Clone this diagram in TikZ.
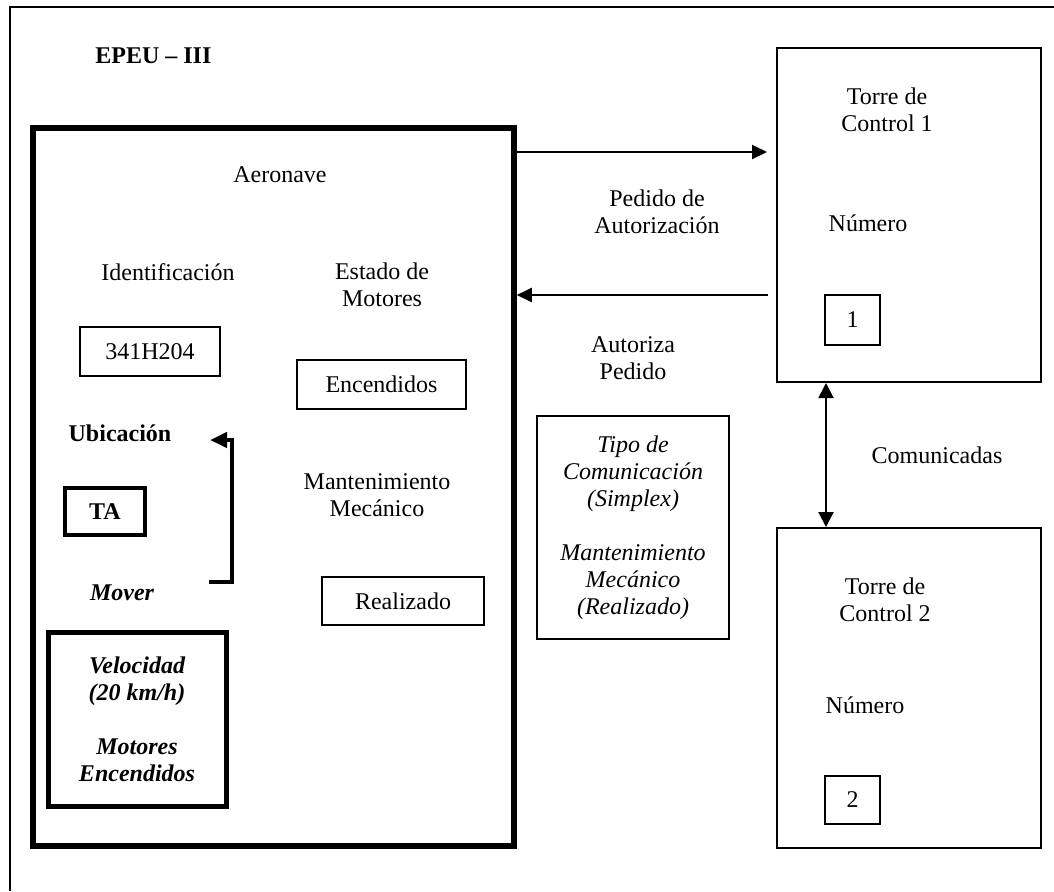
\documentclass[tikz,border=0pt]{standalone}
\usepackage{fontspec}
\setmainfont{Liberation Serif}
\usetikzlibrary{arrows.meta}
\newcommand\letra{\fontsize{12}{13.5}\selectfont}
\begin{document}
\begin{tikzpicture}[x=0.5pt, y=-0.5pt, font=\letra,
  caja/.style = {draw, line width=1pt, inner sep=0pt},
  gruesa/.style = {draw, line width=2.75pt, inner sep=0pt},
  txt/.style = {align=center, inner sep=0pt},
  flecha/.style = {line width=1pt, -{Triangle[length=7.5pt, width=7pt]}}]
\useasboundingbox (0,0) rectangle (1054,891);
% marco exterior
\draw[line width=1pt] (10,891) -- (10,7) -- (1054,7);
\node[txt, anchor=west, font=\letra\bfseries] (epeu) at (95,56) {EPEU – III};
% aeronave
\node[gruesa, minimum width=240.5pt, minimum height=359pt] (aeronave) at (273.5,487) {};
\node[txt] (titulo) at (280,175) {Aeronave};
\node[txt] (ident) at (168,272) {Identificación};
\node[caja, minimum width=70pt, minimum height=24.5pt] (matricula) at (150,351.5) {341H204};
\node[txt] (estado) at (382,285) {Estado de\\Motores};
\node[caja, minimum width=84.5pt, minimum height=24.5pt] (encendidos) at (381.5,384.5) {Encendidos};
\node[txt, font=\letra\bfseries] (ubic) at (120,433) {Ubicación};
\node[gruesa, line width=2.2pt, minimum width=40pt, minimum height=23.5pt, font=\letra\bfseries] (ta) at (105,511.5) {TA};
\node[txt, font=\letra\bfseries\itshape] (mover) at (122,593) {Mover};
\node[gruesa, line width=2.5pt, minimum width=89pt, minimum height=87pt, align=center, font=\letra\bfseries\itshape] (velocidad) at (137,719) {Velocidad\\(20 km/h)\\[13.5pt]Motores\\Encendidos};
\node[txt] (mant) at (377,495) {Mantenimiento\\Mecánico};
\node[caja, minimum width=81pt, minimum height=24pt] (realizado) at (403,601) {Realizado};
\coordinate (movIni) at (209,582);
\coordinate (ubiFin) at (210,440);
\draw[line width=2.2pt, -{Triangle[length=8.5pt, width=7.5pt]}] (movIni) -- (232,582) -- (232,440) -- (ubiFin);
% torres de control
\node[caja, minimum width=132pt, minimum height=167pt] (torre1) at (909,215) {};
\node[txt] (nombre1) at (887,110) {Torre de\\Control 1};
\node[txt] (numero1) at (868,223) {Número};
\node[caja, minimum width=27.5pt, minimum height=25pt] (id1) at (852.5,320) {1};
\node[caja, minimum width=132pt, minimum height=160pt] (torre2) at (909,688) {};
\node[txt] (nombre2) at (885,599.5) {Torre de\\Control 2};
\node[txt] (numero2) at (865,705) {Número};
\node[caja, minimum width=27.5pt, minimum height=24pt] (id2) at (852.5,800) {2};
% mensajes
\node[txt] (pedido) at (657,212) {Pedido de\\Autorización};
\node[txt] (autoriza) at (633,358.5) {Autoriza\\Pedido};
\node[caja, minimum width=96pt, minimum height=111.5pt, align=center, font=\letra\itshape] (tipo) at (633,527.5) {Tipo de\\Comunicación\\(Simplex)\\[13.5pt]Mantenimiento\\Mecánico\\(Realizado)};
\node[txt] (comunic) at (937,455) {Comunicadas};
\draw[flecha, shorten >=4.5pt] (aeronave.east |- 0,152) -- (torre1.west |- 0,152);
\draw[flecha, shorten <=4pt] (torre1.west |- 0,295) -- (aeronave.east |- 0,295);
\draw[line width=1pt, {Triangle[length=7.5pt, width=7.5pt]}-{Triangle[length=7.5pt, width=7.5pt]}] (torre1.south -| 826,0) -- (torre2.north -| 826,0);
\end{tikzpicture}
\end{document}
